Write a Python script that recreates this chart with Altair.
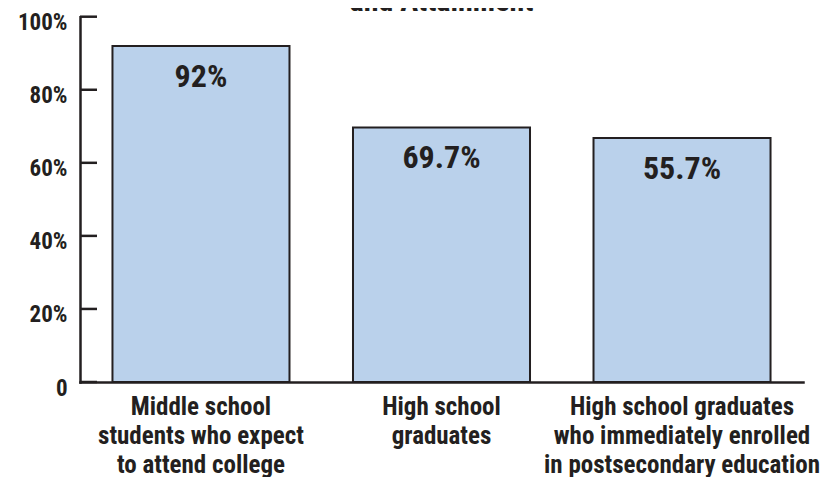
import altair as alt
import pandas as pd

categories = [
    "Middle school\nstudents who expect\nto attend college",
    "High school\ngraduates",
    "High school graduates\nwho immediately enrolled\nin postsecondary education",
]
bar_values = [92, 69.7, 66.8]
bar_labels = ["92%", "69.7%", "55.7%"]
y_ticks = [0, 20, 40, 60, 80, 100]
title_lines = ["and Attainment"]

FONT = "Liberation Sans Narrow, Roboto Condensed, Open Sans Condensed, DejaVu Sans Condensed, sans-serif"
INK = "#231f20"

df = pd.DataFrame({"cat": categories, "value": bar_values, "label": bar_labels})
ticks_df = pd.DataFrame({"t": y_ticks})
title_df = pd.DataFrame({"title": title_lines})

x_enc = alt.X(
    "cat:N",
    sort=None,
    scale=alt.Scale(paddingInner=0.264, paddingOuter=0.135),
    axis=alt.Axis(
        title=None,
        ticks=False,
        tickSize=0,
        labelAngle=0,
        labelExpr="split(datum.value, '\\n')",
        labelFont=FONT,
        labelFontSize=25,
        labelFontWeight="bold",
        labelColor=INK,
        labelLineHeight=29,
        labelPadding=12,
        labelBaseline="top",
        domainColor=INK,
        domainWidth=2.5,
        labelLimit=400,
    ),
)

y_scale = alt.Scale(domain=[0, 100], nice=False)

y_enc = alt.Y(
    "value:Q",
    scale=y_scale,
    axis=alt.Axis(
        title=None,
        values=y_ticks,
        ticks=False,
        tickSize=0,
        grid=False,
        labelExpr="datum.value == 0 ? '0' : datum.value + '%'",
        labelFont=FONT,
        labelFontSize=23,
        labelFontWeight="bold",
        labelColor=INK,
        labelPadding=13,
        labelOffset=6,
        domainColor=INK,
        domainWidth=2.5,
    ),
)

bars = alt.Chart(df).mark_bar(
    color="#bad1eb", stroke=INK, strokeWidth=2
).encode(x=x_enc, y=y_enc)

texts = alt.Chart(df).mark_text(
    font=FONT, fontSize=32, fontWeight="bold", color=INK,
    baseline="alphabetic", align="center", dy=41,
).encode(x=alt.X("cat:N", sort=None), y=alt.Y("value:Q", scale=y_scale), text="label:N")

tick_rules = alt.Chart(ticks_df).mark_rule(color=INK, strokeWidth=2.5).encode(
    y=alt.Y("t:Q", scale=y_scale),
    x=alt.value(0),
    x2=alt.value(17),
)

title_text = alt.Chart(title_df).mark_text(
    font=FONT, fontSize=30, fontWeight="bold", color=INK,
    baseline="alphabetic", align="center",
).encode(x=alt.value(361.5), y=alt.value(-5.7), text="title:N")

chart = (
    alt.layer(bars, texts, tick_rules, title_text)
    .properties(
        width=723,
        height=365.3,
        autosize=alt.AutoSizeParams(type="none"),
        padding={"left": 72, "top": 8.7, "right": 24, "bottom": 95},
    )
    .configure_view(stroke=None)
    .configure_axis(domainCap="square")
)

chart.save("out.html", embed_options={"renderer": "svg", "actions": False})
